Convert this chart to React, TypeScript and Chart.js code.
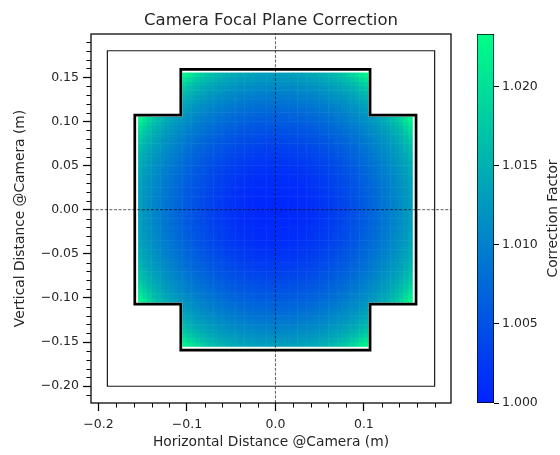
import React, { useEffect, useRef } from 'react';
import { Chart, registerables } from 'chart.js';

Chart.register(...registerables);

// ---------- text ----------
const chartTitle = 'Camera Focal Plane Correction';
const xAxisLabel = 'Horizontal Distance @Camera (m)';
const yAxisLabel = 'Vertical Distance @Camera (m)';
const colorbarLabel = 'Correction Factor';

// ---------- axes ----------
const xRange = [-0.2085, 0.1985];
const yRange = [-0.219, 0.199];
const xMajorTicks = [-0.2, -0.1, 0.0, 0.1];
const xMinorTicks = [-0.18, -0.16, -0.14, -0.12, -0.08, -0.06, -0.04, -0.02, 0.02, 0.04, 0.06, 0.08, 0.12, 0.14, 0.16, 0.18];
const yMajorTicks = [-0.2, -0.15, -0.1, -0.05, 0.0, 0.05, 0.1, 0.15];
const yMinorTicks = [
  -0.21, -0.19, -0.18, -0.17, -0.16, -0.14, -0.13, -0.12, -0.11, -0.09, -0.08, -0.07, -0.06,
  -0.04, -0.03, -0.02, -0.01, 0.01, 0.02, 0.03, 0.04, 0.06, 0.07, 0.08, 0.09, 0.11, 0.12,
  0.13, 0.14, 0.16, 0.17, 0.18, 0.19,
];

// ---------- colour bar ----------
const colorbarRange = [1.0, 1.0233];
const colorbarTicks = [1.0, 1.005, 1.01, 1.015, 1.02];
const colorLow = [0, 34, 255];
const colorHigh = [0, 255, 135];

// ---------- focal plane outlines ----------
const outerBoxX = [-0.19, 0.18, 0.18, -0.19, -0.19];
const outerBoxY = [0.18, 0.18, -0.2, -0.2, 0.18];
const crossX = [-0.107, 0.107, 0.107, 0.159, 0.159, 0.107, 0.107, -0.107, -0.107, -0.159, -0.159, -0.107, -0.107];
const crossY = [0.159, 0.159, 0.107, 0.107, -0.107, -0.107, -0.159, -0.159, -0.107, -0.107, 0.107, 0.107, 0.159];

// ---------- correction map ----------
const cellStep = 0.005;
const cellOuter = 0.155;
const cellNotch = 0.105;
const profileCenter = [0.0, 0.0];
const profileRadius = [0.0, 0.02, 0.04, 0.06, 0.08, 0.1, 0.11, 0.12, 0.13, 0.14, 0.15, 0.16, 0.17, 0.18, 0.19];
const profileFactor = [1.0005, 1.0007, 1.0013, 1.0024, 1.004, 1.006, 1.0071, 1.0083, 1.0096, 1.011, 1.0125, 1.0143, 1.0167, 1.0205, 1.025];

const FONT = 'DejaVu Sans';
const TEXT = '#262626';

function fmt(v: number, d: number) {
  const s = Math.abs(v).toFixed(d);
  return (v < -1e-9 ? '\u2212' : '') + s;
}

function colormap(v: number) {
  let t = (v - colorbarRange[0]) / (colorbarRange[1] - colorbarRange[0]);
  t = Math.max(0, Math.min(1, t));
  const c = colorLow.map((lo, i) => Math.round(lo + t * (colorHigh[i] - lo)));
  return `rgb(${c[0]}, ${c[1]}, ${c[2]})`;
}

function factorAt(r: number) {
  for (let i = 1; i < profileRadius.length; i++) {
    if (r <= profileRadius[i]) {
      const f = (r - profileRadius[i - 1]) / (profileRadius[i] - profileRadius[i - 1]);
      return profileFactor[i - 1] + f * (profileFactor[i] - profileFactor[i - 1]);
    }
  }
  return profileFactor[profileFactor.length - 1];
}

function buildCells() {
  const out: { x: number; y: number; v: number }[] = [];
  const n = Math.round((2 * cellOuter) / cellStep);
  for (let i = 0; i < n; i++) {
    const x = -cellOuter + (i + 0.5) * cellStep;
    for (let j = 0; j < n; j++) {
      const y = -cellOuter + (j + 0.5) * cellStep;
      if (Math.abs(x) > cellNotch && Math.abs(y) > cellNotch) continue;
      const r = Math.hypot(x - profileCenter[0], y - profileCenter[1]);
      out.push({ x, y, v: factorAt(r) });
    }
  }
  return out;
}

const zip = (xs: number[], ys: number[]) => xs.map((x, i) => ({ x, y: ys[i] }));

const frameMinorPlugin = {
  id: 'frameMinor',
  afterDraw(chart: any) {
    const { ctx, chartArea: a, scales } = chart;
    ctx.save();
    ctx.strokeStyle = '#000';
    ctx.lineWidth = 1.25;
    ctx.strokeRect(a.left, a.top, a.right - a.left, a.bottom - a.top);
    ctx.lineWidth = 1;
    const minorLen = 4.5;
    for (const v of xMinorTicks) {
      const px = Math.round(scales.x.getPixelForValue(v)) + 0.5;
      ctx.beginPath();
      ctx.moveTo(px, a.bottom);
      ctx.lineTo(px, a.bottom + minorLen);
      ctx.stroke();
    }
    for (const v of yMinorTicks) {
      const py = Math.round(scales.y.getPixelForValue(v)) + 0.5;
      ctx.beginPath();
      ctx.moveTo(a.left, py);
      ctx.lineTo(a.left - minorLen, py);
      ctx.stroke();
    }
    ctx.restore();
  },
};

const cbTitlePlugin = {
  id: 'cbTitle',
  afterDraw(chart: any) {
    const { ctx, chartArea: a } = chart;
    ctx.save();
    ctx.translate(93, (a.top + a.bottom) / 2);
    ctx.rotate(-Math.PI / 2);
    ctx.font = `13.8px "${FONT}"`;
    ctx.fillStyle = TEXT;
    ctx.textAlign = 'center';
    ctx.textBaseline = 'middle';
    ctx.fillText(colorbarLabel, 0, 0);
    ctx.restore();
  },
};

export default function App() {
  const mainRef = useRef<HTMLCanvasElement>(null);
  const cbRef = useRef<HTMLCanvasElement>(null);

  useEffect(() => {
    document.body.style.margin = '0';
    const tickFont = { family: FONT, size: 12.5 };
    const labelFont = { family: FONT, size: 13.8 };

    const main = new Chart(mainRef.current!, {
      type: 'scatter',
      data: {
        datasets: [
          {
            data: [{ x: 0, y: yRange[0] }, { x: 0, y: yRange[1] }],
            showLine: true,
            borderColor: 'rgba(0,0,0,0.8)',
            borderWidth: 0.8,
            borderDash: [3, 1.6],
            pointRadius: 0,
            order: 0,
          },
          {
            data: [{ x: xRange[0], y: 0 }, { x: xRange[1], y: 0 }],
            showLine: true,
            borderColor: 'rgba(0,0,0,0.8)',
            borderWidth: 0.8,
            borderDash: [3, 1.6],
            pointRadius: 0,
            order: 0,
          },
          {
            data: zip(crossX, crossY),
            showLine: true,
            borderColor: '#000',
            borderWidth: 2.7,
            borderJoinStyle: 'miter',
            borderCapStyle: 'square',
            pointRadius: 0,
            order: 1,
          },
          {
            data: zip(outerBoxX, outerBoxY),
            showLine: true,
            borderColor: '#1a1a1a',
            borderWidth: 1.2,
            borderJoinStyle: 'miter',
            borderCapStyle: 'square',
            pointRadius: 0,
            order: 2,
          },
          {
            data: buildCells(),
            pointStyle: 'rect',
            pointRadius: (ctx: any) => {
              const s = ctx.chart.scales.x;
              const side = Math.abs(s.getPixelForValue(cellStep) - s.getPixelForValue(0));
              return (side + 0.5) / Math.SQRT2;
            },
            pointBackgroundColor: (ctx: any) => (ctx.raw ? colormap(ctx.raw.v) : '#000'),
            backgroundColor: (ctx: any) => (ctx.raw ? colormap(ctx.raw.v) : '#000'),
            pointBorderWidth: 0,
            borderWidth: 0,
            order: 3,
          },
        ] as any,
      },
      options: {
        animation: false,
        responsive: false,
        events: [],
        layout: { padding: { left: 0, right: 109, top: 0, bottom: 0 }, autoPadding: false },
        plugins: {
          legend: { display: false },
          tooltip: { enabled: false },
          title: {
            display: true,
            text: chartTitle,
            fullSize: false,
            color: TEXT,
            font: { family: FONT, size: 16.5, weight: 'normal' },
            padding: { top: 10.5, bottom: 3.7 },
          },
        },
        scales: {
          x: {
            type: 'linear',
            min: xRange[0],
            max: xRange[1],
            afterBuildTicks: (s: any) => {
              s.ticks = xMajorTicks.map((v) => ({ value: v }));
            },
            afterFit: (s: any) => {
              s.height = 52;
            },
            ticks: {
              callback: (v: any) => fmt(Number(v), 1),
              font: tickFont,
              color: TEXT,
              padding: 6,
              maxRotation: 0,
              autoSkip: false,
            },
            grid: { drawOnChartArea: false, tickLength: 8, tickColor: '#000', tickWidth: 1.25 },
            border: { display: false },
            title: { display: true, text: xAxisLabel, color: TEXT, font: labelFont, padding: { top: 0, bottom: 4.2 } },
          },
          y: {
            type: 'linear',
            min: yRange[0],
            max: yRange[1],
            afterBuildTicks: (s: any) => {
              s.ticks = yMajorTicks.map((v) => ({ value: v }));
            },
            afterFit: (s: any) => {
              s.width = 91;
            },
            ticks: {
              callback: (v: any) => fmt(Number(v), 2),
              font: tickFont,
              color: TEXT,
              padding: 4,
              autoSkip: false,
            },
            grid: { drawOnChartArea: false, tickLength: 8, tickColor: '#000', tickWidth: 1.25 },
            border: { display: false },
            title: { display: true, text: yAxisLabel, color: TEXT, font: labelFont, padding: { top: 11.7, bottom: 0 } },
          },
        },
      } as any,
      plugins: [frameMinorPlugin],
    });

    const cb = new Chart(cbRef.current!, {
      type: 'bar',
      data: {
        labels: [''],
        datasets: [
          {
            data: [[colorbarRange[0], colorbarRange[1]]],
            backgroundColor: (ctx: any) => {
              const chart = ctx.chart;
              const ys = chart.scales.y;
              if (!chart.chartArea || !ys) return 'rgb(0,128,191)';
              const g = chart.ctx.createLinearGradient(0, ys.getPixelForValue(colorbarRange[0]), 0, ys.getPixelForValue(colorbarRange[1]));
              g.addColorStop(0, colormap(colorbarRange[0]));
              g.addColorStop(1, colormap(colorbarRange[1]));
              return g;
            },
            borderColor: '#000',
            borderWidth: 1,
            borderSkipped: false,
            barPercentage: 1,
            categoryPercentage: 1,
          },
        ] as any,
      },
      options: {
        animation: false,
        responsive: false,
        events: [],
        layout: { padding: { left: 17, right: 0, top: 34, bottom: 52 }, autoPadding: false },
        plugins: { legend: { display: false }, tooltip: { enabled: false } },
        scales: {
          x: { display: false },
          y: {
            position: 'right',
            min: colorbarRange[0],
            max: colorbarRange[1],
            beginAtZero: false,
            afterBuildTicks: (s: any) => {
              s.ticks = colorbarTicks.map((v) => ({ value: v }));
            },
            afterFit: (s: any) => {
              s.width = 66;
            },
            ticks: { callback: (v: any) => Number(v).toFixed(3), font: tickFont, color: TEXT, padding: 3, autoSkip: false },
            grid: { drawOnChartArea: false, tickLength: 5, tickColor: '#000', tickWidth: 1 },
            border: { display: false },
          },
        },
      } as any,
      plugins: [cbTitlePlugin],
    });

    return () => {
      main.destroy();
      cb.destroy();
    };
  }, []);

  return (
    <div style={{ position: 'absolute', left: 0, top: 0, width: 560, height: 455, background: '#fff' }}>
      <canvas ref={mainRef} width={560} height={455} style={{ position: 'absolute', left: 0, top: 0, width: 560, height: 455 }} />
      <canvas ref={cbRef} width={100} height={455} style={{ position: 'absolute', left: 460, top: 0, width: 100, height: 455 }} />
    </div>
  );
}
